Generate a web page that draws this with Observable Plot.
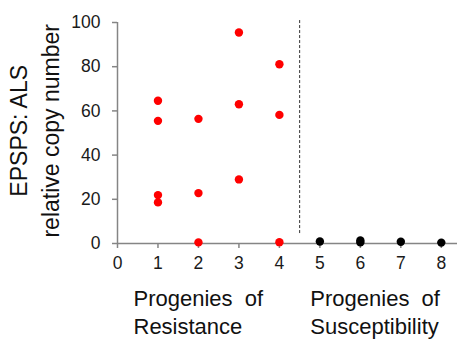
<!DOCTYPE html>
<html>
<head>
<meta charset="utf-8">
<script src="https://cdn.jsdelivr.net/npm/d3@7"></script>
<script src="https://cdn.jsdelivr.net/npm/@observablehq/plot@0.6"></script>
<style>
  html, body { margin: 0; padding: 0; background: #fff; }
  #chart svg { display: block; font-family: "Liberation Sans", Arial, sans-serif; }
  .grp text { word-spacing: 6px; }
</style>
</head>
<body>
<div id="chart"></div>
<script>
// Resistant progenies (red)
const resX = [1, 1, 1, 1, 2, 2, 2, 3, 3, 3, 4, 4, 4];
const resY = [64.6, 55.5, 21.9, 18.6, 56.4, 22.8, 0.5, 95.5, 63.0, 29.0, 81.1, 58.2, 0.6];
// Susceptible progenies (black)
const susX = [5, 6, 6, 7, 8];
const susY = [0.9, 0.5, 1.4, 0.8, 0.4];
// Ticks and labels
const xTicks = [0, 1, 2, 3, 4, 5, 6, 7, 8];
const yTicks = [0, 20, 40, 60, 80, 100];
const groupLabels = ["Progenies of\nResistance", "Progenies of\nSusceptibility"];
const groupX = [0.395, 4.765];
const dividerX = [4.5];
const yTitle = "EPSPS: ALS\nrelative copy number";

const res = resX.map((x, i) => ({x, y: resY[i]}));
const sus = susX.map((x, i) => ({x, y: susY[i]}));
const groups = groupLabels.map((t, i) => ({t, x: groupX[i]}));

const axisColor = "#858585";
const chart = Plot.plot({
  width: 458,
  height: 340,
  marginLeft: 117,
  marginRight: 1,
  marginTop: 22,
  marginBottom: 97,
  style: {fontFamily: "'Liberation Sans', Arial, sans-serif", background: "#fff", overflow: "visible"},
  x: {domain: [0, 8.4]},
  y: {domain: [0, 100]},
  marks: [
    Plot.ruleX(dividerX, {y1: 4.5, y2: 101, stroke: "#333", strokeWidth: 1, strokeDasharray: "3,2"}),
    Plot.ruleY([0], {x1: 0, x2: 8.4, stroke: axisColor, strokeWidth: 1.5}),
    Plot.ruleX([0], {y1: 0, y2: 100, stroke: axisColor, strokeWidth: 1.5}),
    Plot.axisX({ticks: xTicks, tickSize: 5, tickPadding: 8, stroke: axisColor, strokeWidth: 1.5, fontSize: 17.5, color: "#1a1a1a", label: null}),
    Plot.axisY({ticks: yTicks, tickSize: 5, tickPadding: 12, stroke: axisColor, strokeWidth: 1.5, fontSize: 17.5, color: "#1a1a1a", label: null}),
    Plot.dot(res, {x: "x", y: "y", r: 4.2, fill: "#ff0000", stroke: "none"}),
    Plot.dot(sus, {x: "x", y: "y", r: 4.2, fill: "#000", stroke: "none"}),
    Plot.text(groups, {x: "x", y: () => 0, text: "t", textAnchor: "start", lineAnchor: "bottom", dy: 90, lineHeight: 1.23, fontSize: 22, fill: "#111", className: "grp"}),
    Plot.text([yTitle], {x: () => 0, y: () => 51, text: d => d, rotate: -90, textAnchor: "middle", lineAnchor: "bottom", dx: -59, lineHeight: 1.35, fontSize: 23, fill: "#111"})
  ]
});
document.getElementById("chart").appendChild(chart);
</script>
</body>
</html>
